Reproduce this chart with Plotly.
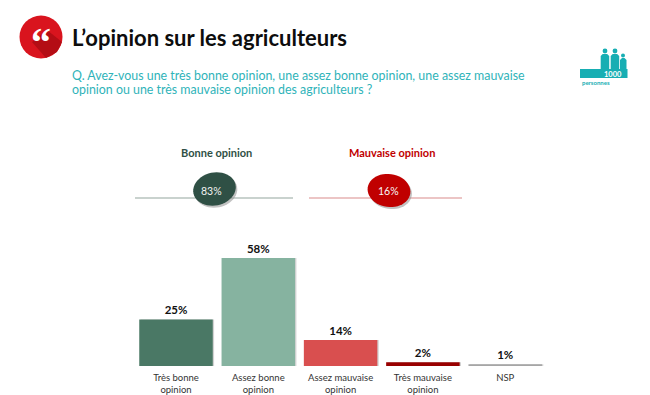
import math
import plotly.graph_objects as go

W, H = 650, 395
FONT = "Lato"

categories = ["Très bonne<br>opinion", "Assez bonne<br>opinion", "Assez mauvaise<br>opinion",
              "Très mauvaise<br>opinion", "NSP"]
values = [25, 58, 14, 2, 1]
value_labels = ["25%", "58%", "14%", "2%", "1%"]
bar_colors = ["#4a7865", "#86b3a0", "#d94f4f", "#990000", "#a6a6a6"]

title = "L’opinion sur les agriculteurs"
question_lines = ["Q. Avez-vous une très bonne opinion, une assez bonne opinion, une assez mauvaise",
                  "opinion ou une très mauvaise opinion des agriculteurs ?"]
summary_titles = ["Bonne opinion", "Mauvaise opinion"]
summary_values = ["83%", "16%"]

TEAL = "#2fb3b9"
ICON = "#17aeb3"


def px(x):
    return x / W


def py(y):
    return 1 - y / H


def ellipse(cx, cy, rx, ry, deg):
    a = math.radians(deg)
    pts = []
    for i in range(49):
        t = 2 * math.pi * i / 48
        x0, y0 = rx * math.cos(t), ry * math.sin(t)
        pts.append((cx + x0 * math.cos(a) - y0 * math.sin(a), cy + x0 * math.sin(a) + y0 * math.cos(a)))
    return "M" + " L".join(f"{px(x):.5f},{py(y):.5f}" for x, y in pts) + " Z"


def poly(points):
    return "M" + " L".join(f"{px(x):.5f},{py(y):.5f}" for x, y in points) + " Z"


def shape_path(path, fill, opacity=1.0):
    return dict(type="path", xref="paper", yref="paper", path=path, fillcolor=fill,
                line=dict(width=0), opacity=opacity, layer="above")


def rect(x0, y0, x1, y1, fill):
    return dict(type="rect", xref="paper", yref="paper", x0=px(x0), x1=px(x1), y0=py(y1), y1=py(y0),
                fillcolor=fill, line=dict(width=0), layer="above")


def body(x0, y0, x1, y1, fill):
    return shape_path(poly([(x0, y0 + 2), (x0 + 2, y0), (x1 - 2, y0), (x1, y0 + 2), (x1, y1), (x0, y1)]), fill)


def hline(x0, x1, y, color):
    return dict(type="line", xref="paper", yref="paper", x0=px(x0), x1=px(x1), y0=py(y), y1=py(y),
                line=dict(color=color, width=1.2), layer="below")


def circle(cx, cy, r, fill):
    return dict(type="circle", xref="paper", yref="paper", x0=px(cx - r), x1=px(cx + r),
                y0=py(cy + r), y1=py(cy - r), fillcolor=fill, line=dict(width=0), layer="above")


def note(x, y, text, size, color, bold=False, anchor="center", family=FONT):
    return dict(xref="paper", yref="paper", x=px(x), y=py(y), text=f"<b>{text}</b>" if bold else text,
                showarrow=False, xanchor=anchor, yanchor="middle",
                font=dict(size=size, color=color, family=family), borderpad=0, borderwidth=0)


fig = go.Figure()
fig.add_bar(x=categories, y=values, width=0.893, offset=-0.43, marker=dict(color="#d2d2d2", line=dict(width=0)),
            hoverinfo="skip", showlegend=False)
fig.add_bar(x=categories, y=values, width=0.893, offset=-0.4465, marker=dict(color=bar_colors, line=dict(width=0)),
            text=[f"<b>{v}</b>" for v in value_labels], textposition="outside", cliponaxis=False,
            textfont=dict(size=11.5, color="#111111", family=FONT), showlegend=False)

shapes = [
    hline(135, 293, 198, "#93a59e"),
    hline(309, 462, 198, "#d98c8c"),
    shape_path(ellipse(216, 191, 21.5, 16.5, -12), "#8f8f8f", 0.55),
    shape_path(ellipse(214.5, 189, 21.5, 16.5, -12), "#2f5045"),
    shape_path(ellipse(390.5, 192.5, 21.5, 16.5, 8), "#8f8f8f", 0.55),
    shape_path(ellipse(389, 190.5, 21.5, 16.5, 8), "#c00000"),
    circle(41, 37, 21.5, "#d9141e"),
    shape_path(poly([(32, 42), (47, 30), (62, 42), (57, 52), (46, 58)]), "#b40d15"),
    rect(580, 69, 627.5, 78, ICON),
    circle(605, 51, 2.4, ICON),
    circle(615, 51, 2.4, ICON),
    circle(623, 55.5, 2, ICON),
    body(600.7, 54, 609.2, 69, ICON),
    body(610.7, 54, 619.2, 69, ICON),
    body(620, 58, 626.5, 69, ICON),
]

annotations = [
    note(72, 37.5, title, 22, "#0d0d0d", True, "left"),
    note(72, 75, question_lines[0], 12.4, TEAL, False, "left"),
    note(72, 89.5, question_lines[1], 12.4, TEAL, False, "left"),
    note(216.5, 152.5, summary_titles[0], 11, "#2f5045", True),
    note(392, 152.5, summary_titles[1], 11, "#c00000", True),
    note(212, 191, summary_values[0], 10.5, "#f2f2f2"),
    note(388, 191, summary_values[1], 10.5, "#f7f7f7"),
    note(41, 42, "“", 40, "#ffffff", True, family="Liberation Serif"),
    note(613, 74, "1000", 7.5, "#ffffff", True),
    note(596, 82, "personnes", 6, ICON, True),
]

fig.update_layout(
    width=W, height=H, margin=dict(l=0, r=0, t=0, b=0), paper_bgcolor="white", plot_bgcolor="white",
    barmode="overlay", showlegend=False, shapes=shapes, annotations=annotations,
    xaxis=dict(domain=[134.85 / W, 546.35 / W], showgrid=False, showline=False, zeroline=False, ticks="",
               type="category", ticklabelstandoff=4, tickfont=dict(size=9.5, color="#333333", family=FONT)),
    yaxis=dict(domain=[1 - 366 / H, 1 - 235.7 / H], range=[0, 70], visible=False, showgrid=False, zeroline=False),
)
fig.write_html("out.html", config=dict(displayModeBar=False),
               post_script="document.body.style.margin='0';document.body.style.overflow='hidden';")
